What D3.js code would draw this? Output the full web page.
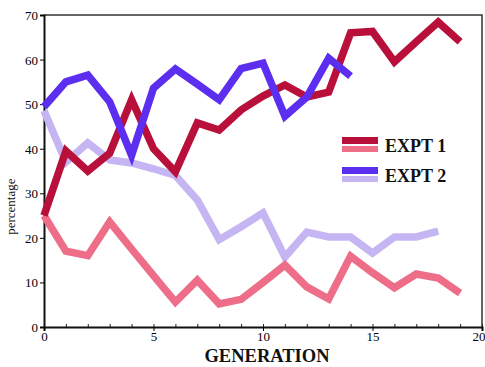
<!DOCTYPE html>
<html>
<head>
<meta charset="utf-8">
<script src="https://cdn.jsdelivr.net/npm/d3@7"></script>
<style>
  body { margin: 0; background: #fff; }
  svg { display: block; }
  .tick text { font-family: "Liberation Serif", "DejaVu Serif", serif; font-size: 13px; fill: #000; }
  .axis-title { font-family: "Liberation Serif", serif; font-weight: bold; fill: #111; }
</style>
</head>
<body>
<svg id="chart" width="485" height="367"></svg>
<script>
const generations = d3.range(0, 20);
const expt1Dark = [25, 39.5, 35, 39, 51, 40, 34.8, 45.8, 44.2, 48.7, 51.8, 54.3, 51.6, 52.7, 66, 66.3, 59.5, 64, 68.4, 64];
const expt1Light = [25, 17, 16, 23.6, 17.5, 11.5, 5.6, 10.5, 5.2, 6.2, 10, 13.9, 9, 6.3, 15.9, 12.2, 8.8, 11.9, 11, 7.6];
const expt2Dark = [49.4, 55, 56.5, 50.5, 38.5, 53.6, 57.9, 54.5, 51, 58, 59.2, 47.3, 51.6, 60.3, 56.3];
const expt2Light = [48.5, 37, 41.3, 37.5, 36.8, 35.5, 34, 28.5, 19.6, 22.5, 25.6, 15.7, 21.3, 20.2, 20.2, 16.6, 20.2, 20.2, 21.5];
const xTicks = [0, 5, 10, 15, 20];
const yTicks = [0, 10, 20, 30, 40, 50, 60, 70];
const legendLabels = ["EXPT 1", "EXPT 2"];

const width = 485;
const height = 367;
const margin = { top: 15, right: 3, bottom: 40, left: 44 };

const colors = {
  expt1Dark: "#b8103a",
  expt1Light: "#ee6d89",
  expt2Dark: "#5c2ff0",
  expt2Light: "#c5b6f3"
};

const svg = d3.select("#chart");

const x = d3.scaleLinear().domain([0, 20]).range([margin.left, width - margin.right]);
const y = d3.scaleLinear().domain([0, 70]).range([height - margin.bottom, margin.top]);

// frame (top and right edges)
svg.append("path")
  .attr("d", `M${x(0)},${y(70)}H${x(20)}V${y(0)}`)
  .attr("fill", "none")
  .attr("stroke", "#333")
  .attr("stroke-width", 1.5);

// minor ticks on the x axis
svg.append("g")
  .attr("transform", `translate(0,${y(0)})`)
  .call(d3.axisBottom(x).ticks(20).tickSize(-3).tickFormat(""))
  .call((g) => g.select(".domain").remove())
  .selectAll("line")
  .attr("stroke", "#222");

svg.append("g")
  .attr("transform", `translate(0,${y(0)})`)
  .call(d3.axisBottom(x).tickValues(xTicks).tickSize(4).tickPadding(1))
  .call((g) => g.select(".domain").attr("stroke", "#111").attr("stroke-width", 2))
  .call((g) => g.selectAll(".tick text")
    .filter((d) => d === 20)
    .attr("text-anchor", "end")
    .attr("dx", 3));

svg.append("g")
  .attr("transform", `translate(${x(0)},0)`)
  .call(d3.axisLeft(y).tickValues(yTicks).tickSize(4).tickPadding(2))
  .call((g) => g.select(".domain").attr("stroke", "#111").attr("stroke-width", 2))
  .call((g) => g.selectAll(".tick text").attr("dy", "0.35em"));

svg.append("text")
  .attr("class", "axis-title")
  .attr("x", x(10) + 4)
  .attr("y", height - 5)
  .attr("text-anchor", "middle")
  .attr("font-size", 18.5)
  .text("GENERATION");

svg.append("text")
  .attr("transform", `translate(15,${y(27)}) rotate(-90)`)
  .attr("text-anchor", "middle")
  .attr("font-family", "Liberation Serif, serif")
  .attr("font-size", 13)
  .attr("fill", "#111")
  .text("percentage");

const line = d3.line()
  .x((d, i) => x(generations[i]))
  .y((d) => y(d));

const series = [
  { values: expt2Light, color: colors.expt2Light },
  { values: expt1Light, color: colors.expt1Light },
  { values: expt1Dark, color: colors.expt1Dark },
  { values: expt2Dark, color: colors.expt2Dark }
];

svg.append("g")
  .selectAll("path")
  .data(series)
  .join("path")
  .attr("d", (item) => line(item.values))
  .attr("fill", "none")
  .attr("stroke", (item) => item.color)
  .attr("stroke-width", 7.5)
  .attr("stroke-linejoin", "miter")
  .attr("stroke-miterlimit", 3);

const legendItems = [
  { label: legendLabels[0], dark: colors.expt1Dark, light: colors.expt1Light, y: 137 },
  { label: legendLabels[1], dark: colors.expt2Dark, light: colors.expt2Light, y: 167 }
];

const legend = svg.append("g")
  .selectAll("g")
  .data(legendItems)
  .join("g")
  .attr("transform", (item) => `translate(342,${item.y})`);

legend.append("rect")
  .attr("width", 36)
  .attr("height", 7)
  .attr("fill", (item) => item.dark);
legend.append("rect")
  .attr("y", 9)
  .attr("width", 36)
  .attr("height", 6)
  .attr("fill", (item) => item.light);
legend.append("text")
  .attr("class", "axis-title")
  .attr("x", 43)
  .attr("y", 15)
  .attr("font-size", 18)
  .text((item) => item.label);
</script>
</body>
</html>
